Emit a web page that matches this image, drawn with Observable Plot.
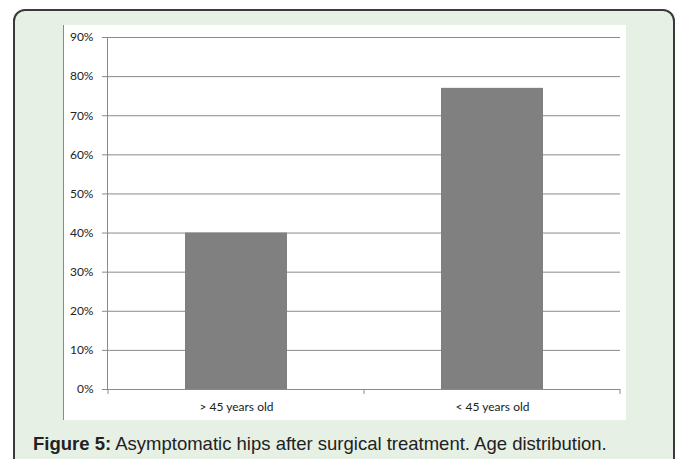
<!DOCTYPE html>
<html>
<head>
<meta charset="utf-8">
<script src="https://cdn.jsdelivr.net/npm/d3@7"></script>
<script src="https://cdn.jsdelivr.net/npm/@observablehq/plot@0.6"></script>
<style>
  html, body { margin: 0; padding: 0; background: #ffffff; }
  #card {
    position: absolute; left: 13px; top: 9px; width: 658px; height: 480px;
    border: 2px solid #3a3a3a; border-radius: 12px; background: #e6f0e4;
  }
  #chart {
    position: absolute; left: 48px; top: 14px; background: #fff;
    border-left: 1px solid #8a8a8a; line-height: 0;
  }
  #caption {
    position: absolute; left: 18px; top: 422px; white-space: nowrap;
    font-family: "Liberation Sans", Arial, sans-serif; font-size: 18.5px; color: #222;
  }
</style>
</head>
<body>
<div id="card">
  <div id="chart"></div>
  <div id="caption"><b>Figure 5:</b> Asymptomatic hips after surgical treatment. Age distribution.</div>
</div>
<script>
const categories = ["> 45 years old", "< 45 years old"];
const values = [0.40, 0.77];
const yTicks = [0, 0.1, 0.2, 0.3, 0.4, 0.5, 0.6, 0.7, 0.8, 0.9];

const data = categories.map((c, i) => ({category: c, value: values[i]}));
const pct = d3.format(".0%");

const chart = Plot.plot({
  width: 562, height: 395,
  marginLeft: 43, marginRight: 6, marginTop: 12, marginBottom: 31,
  style: {background: "white", fontFamily: "Lato, 'Open Sans', sans-serif", fontSize: "12px", color: "#222", overflow: "visible"},
  x: {domain: categories, padding: 0, label: null, axis: null},
  y: {domain: [0, 0.9], label: null, axis: null},
  marks: [
    Plot.gridY(yTicks, {stroke: "#8a8a8a", strokeOpacity: 1}),
    Plot.barY(data, {x: "category", y: "value", fill: "#808080", insetLeft: 77, insetRight: 77}),
    Plot.axisY(yTicks, {tickSize: 5, tickPadding: 9, tickFormat: pct, stroke: "#8a8a8a", label: null, fill: "#222"}),
    Plot.axisX({tickSize: 0, tickPadding: 13, label: null, fill: "#222"}),
    Plot.ruleY([0], {stroke: "#8a8a8a"}),
    Plot.frame({anchor: "left", stroke: "#8a8a8a"})
  ]
});

// category boundary tick marks (Excel style), positioned via Plot's scales
const xs = chart.scale("x"), ys = chart.scale("y");
const y0 = ys.apply(0);
const bounds = categories.map(c => xs.apply(c)).concat([xs.apply(categories[categories.length - 1]) + xs.bandwidth]);
d3.select(chart).append("g")
  .selectAll("line").data(bounds).join("line")
  .attr("x1", d => d).attr("x2", d => d)
  .attr("y1", y0).attr("y2", y0 + 5)
  .attr("stroke", "#8a8a8a");

document.getElementById("chart").appendChild(chart);
</script>
</body>
</html>
